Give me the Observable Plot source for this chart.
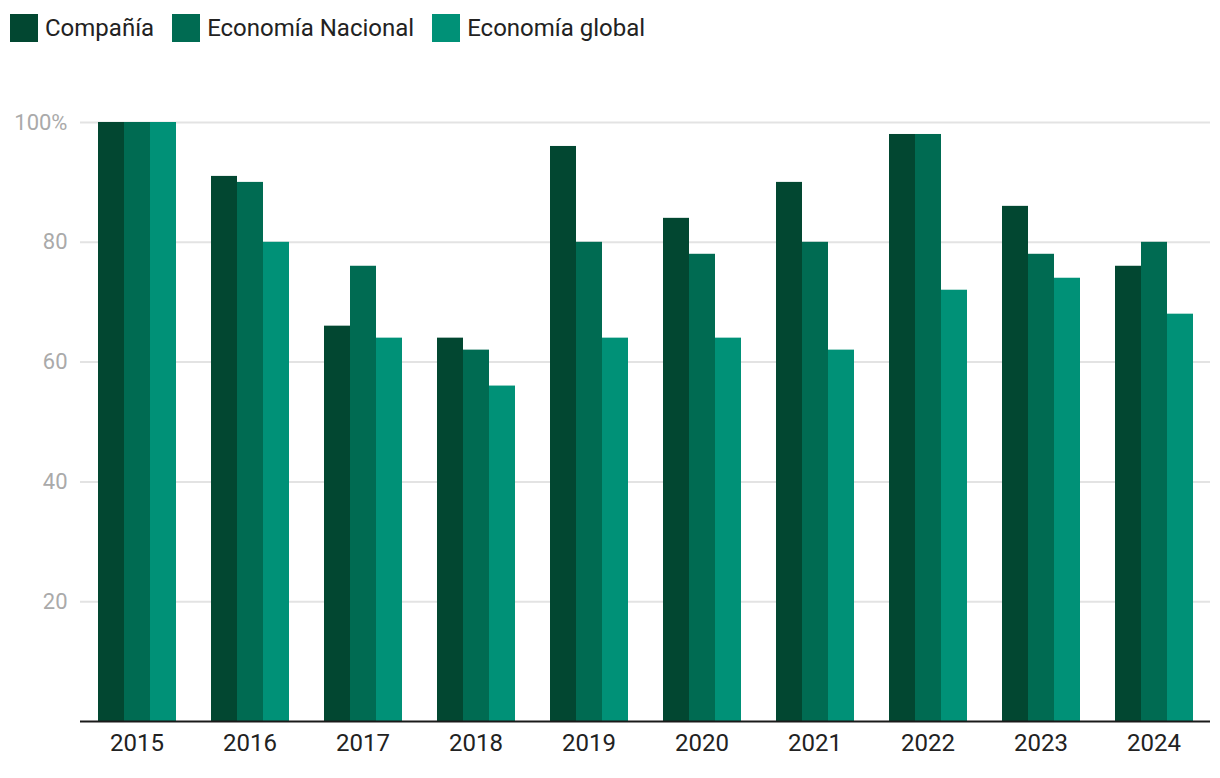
<!DOCTYPE html>
<html>
<head>
<meta charset="utf-8">
<script src="https://cdn.jsdelivr.net/npm/d3@7"></script>
<script src="https://cdn.jsdelivr.net/npm/@observablehq/plot@0.6"></script>
<style>
  html, body { margin: 0; padding: 0; background: #fff; }
  body { width: 1220px; height: 778px; overflow: hidden; font-family: Roboto, sans-serif; }
  #legend { height: 60px; display: flex; align-items: flex-start; padding-top: 14px; box-sizing: border-box; padding-left: 10px; }
  .item { display: flex; align-items: center; margin-right: 18px; font-size: 24px; color: #222; line-height: 28px; }
  .sw { width: 28px; height: 28px; margin-right: 7px; }
  svg { display: block; }
</style>
</head>
<body>
<div id="legend"></div>
<div id="chart"></div>
<script>
const years = ["2015","2016","2017","2018","2019","2020","2021","2022","2023","2024"];
const seriesNames = ["Compañía", "Economía Nacional", "Economía global"];
const colors = ["#024731", "#006b52", "#009177"];
const compania = [100, 91, 66, 64, 96, 84, 90, 98, 86, 76];
const nacional = [100, 90, 76, 62, 80, 78, 80, 98, 78, 80];
const global = [100, 80, 64, 56, 64, 64, 62, 72, 74, 68];
const yTicks = [20, 40, 60, 80, 100];

const seriesValues = [compania, nacional, global];
const data = [];
years.forEach((yr, i) => {
  seriesNames.forEach((s, j) => data.push({year: yr, series: s, value: seriesValues[j][i]}));
});

const legend = document.getElementById("legend");
seriesNames.forEach((s, j) => {
  const it = document.createElement("div");
  it.className = "item";
  const sw = document.createElement("div");
  sw.className = "sw";
  sw.style.background = colors[j];
  it.appendChild(sw);
  const t = document.createElement("span");
  t.textContent = s;
  it.appendChild(t);
  legend.appendChild(it);
});

const chart = Plot.plot({
  width: 1220,
  height: 718,
  marginTop: 62,
  marginBottom: 57,
  marginLeft: 80,
  marginRight: 10,
  style: {fontFamily: "Roboto, sans-serif", background: "#fff"},
  fx: {domain: years, padding: 0, label: null, axis: null},
  x: {domain: seriesNames, paddingInner: 0, paddingOuter: 0.62, axis: null},
  y: {domain: [0, 100], axis: null},
  color: {domain: seriesNames, range: colors},
  marks: [
    Plot.ruleY(yTicks, {y: d => d, stroke: "#e3e3e3", strokeWidth: 2}),
    Plot.barY(data, {fx: "year", x: "series", y: "value", fill: "series"}),
    Plot.ruleY([0], {stroke: "#1a1a1a", strokeWidth: 2}),
    Plot.axisY(yTicks, {anchor: "left", tickSize: 0, tickPadding: 13, fontSize: 22, fill: "#aaaaaa",
      tickFormat: d => d === 100 ? "100%" : String(d), label: null}),
    Plot.axisFx({anchor: "bottom", tickSize: 0, tickPadding: 12, fontSize: 24, fill: "#222", label: null})
  ]
});
document.getElementById("chart").appendChild(chart);
</script>
</body>
</html>
